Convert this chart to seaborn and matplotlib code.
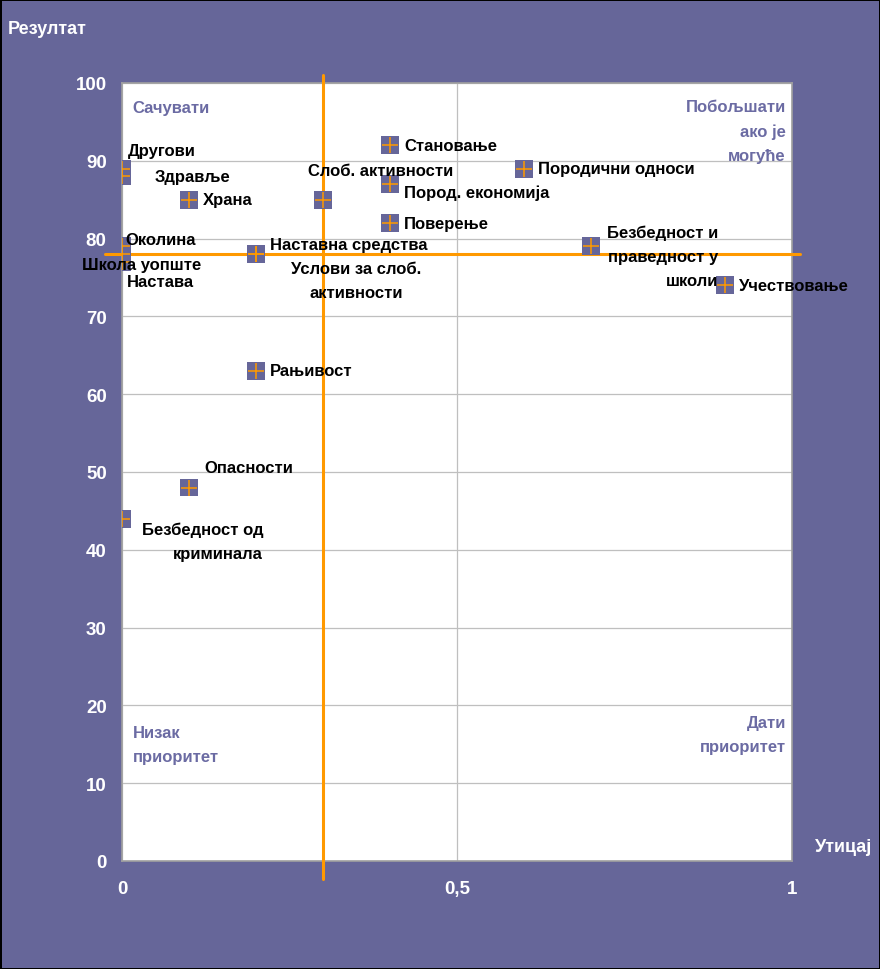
import numpy as np
import pandas as pd
import matplotlib
matplotlib.use("Agg")
import matplotlib.pyplot as plt
import seaborn as sns

# Data
labels = ["Другови", "Здравље", "Храна", "Слоб. активности", "Становање",
          "Пород. економија", "Поверење", "Породични односи", "Околина",
          "Школа уопште", "Настава", "Наставна средства",
          "Услови за слоб.\nактивности", "Безбедност и\nправедност у\nшколи",
          "Учествовање", "Рањивост", "Опасности", "Безбедност од\nкриминала"]
impact = [0.0, 0.0, 0.1, 0.3, 0.4, 0.4, 0.4, 0.6, 0.0, 0.0, 0.0, 0.2, 0.2,
          0.7, 0.9, 0.2, 0.1, 0.0]
score = [89, 88, 85, 85, 92, 87, 82, 89, 79, 78, 77, 78, 78, 79, 74, 63, 48, 44]

threshold_x = 0.3
threshold_y = 78

# label placement (offset in pixels, horizontal alignment)
offsets = [(6, 18, "left"), (33, 0, "left"), (14, 0, "left"), (-15, 29, "left"),
           (14, 0, "left"), (14, -8, "left"), (14, 0, "left"), (14, 0, "left"),
           (3, 7, "left"), (-40, -10, "left"), (5, -20, "left"), (14, 10, "left"),
           (100, -26, "center"), (127, -10, "right"), (14, 0, "left"),
           (14, 0, "left"), (15, 20, "left"), (141, -23, "right")]

df = pd.DataFrame({"label": labels, "impact": impact, "score": score})

bg = "#666699"
orange = "#FF9900"
quad_col = "#6B6BA3"

sns.set_style("white")
plt.rcParams["font.family"] = ["Liberation Sans", "DejaVu Sans"]

fig = plt.figure(figsize=(8.8, 9.7), dpi=100)
fig.patch.set_facecolor(bg)
fig.patch.set_edgecolor("black")
fig.patch.set_linewidth(2)
ax = fig.add_axes([122 / 880, 1 - 862 / 970, 670 / 880, 778 / 970])
ax.set_facecolor("white")

ax.set_xlim(0, 1)
ax.set_ylim(0, 100)
ax.set_xticks([0, 0.5, 1])
ax.set_xticklabels(["0", "0,5", "1"])
ax.set_yticks(np.arange(0, 101, 10))
ax.grid(True, color="#BFBFBF", linewidth=0.9)
ax.set_axisbelow(True)
for s in ax.spines.values():
    s.set_color("#A0A0A0")
    s.set_linewidth(1.2)
ax.tick_params(length=0, colors="white", labelsize=13.5)
ax.tick_params(axis="x", pad=14)
ax.tick_params(axis="y", pad=11)
for t in ax.get_xticklabels() + ax.get_yticklabels():
    t.set_fontweight("bold")

# threshold lines
ax.plot([threshold_x, threshold_x], [-2.3, 101], color=orange, lw=2.2,
        clip_on=False, zorder=3)
ax.plot([-0.025, 1.012], [threshold_y, threshold_y], color=orange, lw=2.2,
        clip_on=False, zorder=3)

# markers
sns.scatterplot(data=df, x="impact", y="score", marker="s", s=165,
                color=bg, edgecolor="none", ax=ax, zorder=4)
ax.scatter(df["impact"], df["score"], marker="+", s=120, color=orange,
           linewidths=1.1, zorder=5)
ax.set_xlabel("")
ax.set_ylabel("")

for lab, x, y, (dx, dy, ha) in zip(labels, impact, score, offsets):
    ax.annotate(lab, (x, y), xytext=(dx, dy), textcoords="offset pixels",
                ha=ha, va="center", fontsize=12, fontweight="bold",
                color="black", linespacing=1.75, multialignment=ha, zorder=6)

# quadrant labels
qkw = dict(transform=ax.transAxes, fontsize=12, fontweight="bold",
           color=quad_col, linespacing=1.75, va="center")
ax.text(0.016, 0.969, "Сачувати", ha="left", **qkw)
ax.text(0.991, 0.938, "Побољшати\nако је\nмогуће", ha="right",
        multialignment="right", **qkw)
ax.text(0.016, 0.150, "Низак\nприоритет", ha="left", **qkw)
ax.text(0.991, 0.163, "Дати\nприоритет", ha="right", multialignment="right", **qkw)

# axis titles
fig.text(8 / 880, 1 - 30 / 970, "Резултат", ha="left", va="center",
         color="white", fontsize=13, fontweight="bold")
fig.text(872 / 880, 1 - 848 / 970, "Утицај", ha="right", va="center",
         color="white", fontsize=13, fontweight="bold")

fig.savefig("out.png", dpi=100)
